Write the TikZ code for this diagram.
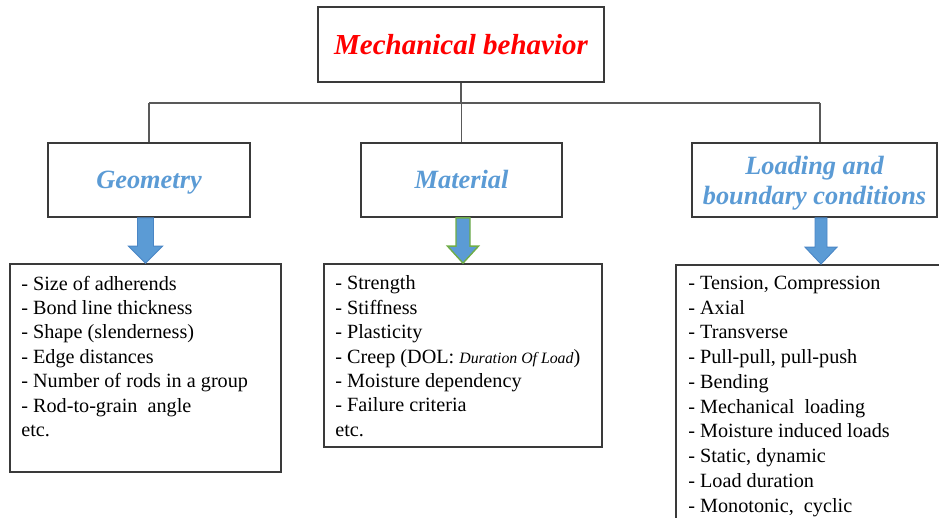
\documentclass[tikz,border=0pt]{standalone}
\usepackage{fontspec}
\setmainfont{Liberation Serif}
\usepackage{tikz}
\usetikzlibrary{calc}
\definecolor{hdrred}{RGB}{255,0,0}
\definecolor{hdrblue}{HTML}{5B9BD5}
\definecolor{arrline}{HTML}{4A86C5}
\definecolor{arrgreen}{HTML}{70AD47}
\definecolor{boxline}{HTML}{3A3A3A}
\tikzstyle{bx}=[shape=rectangle,draw=boxline,line width=1pt,fill=white,inner sep=0pt]
\tikzstyle{ttl}=[font=\fontsize{16.5}{20}\selectfont\bfseries\itshape,text=hdrred]
\tikzstyle{hdr}=[inner sep=0pt,font=\fontsize{15}{17}\selectfont\bfseries\itshape,text=hdrblue,align=center]
\tikzstyle{lst}=[anchor=north west,inner sep=0pt,align=left,font=\fontsize{11.5}{13.9}\selectfont]
\tikzstyle{wire}=[draw=black!65,line width=0.6pt]
\tikzstyle{barrow}=[fill=hdrblue,draw=arrline,line width=0.5pt]
\tikzstyle{garrow}=[fill=hdrblue,draw=arrgreen,line width=0.8pt]
\newcommand{\blockarr}[5]{%
  \draw[#3] ($(#2.north |- #1.south)+(-#4,0)$) -- ($(#2.north)+(-#4,-17)$)
    -- ($(#2.north)+(-#5,-17)$) -- (#2.north) -- ($(#2.north)+(#5,-17)$)
    -- ($(#2.north)+(#4,-17)$) -- ($(#2.north |- #1.south)+(#4,0)$) -- cycle;}
\begin{document}
\begin{tikzpicture}[x=0.02cm,y=-0.02cm]
            \clip (0,0) rectangle (939,517);
            % headers
            \node[bx,ttl,minimum width=5.72cm,minimum height=1.5cm] (mb) at (461,44.5) {Mechanical behavior};
            \node[bx,minimum width=4.04cm,minimum height=1.48cm] (geo) at (149,180) {};
            \node[bx,minimum width=4.02cm,minimum height=1.48cm] (mat) at (461.5,180) {};
            \node[bx,minimum width=4.9cm,minimum height=1.48cm] (load) at (814.5,180) {};
            \node[hdr,anchor=base] (geotitle) at ($(geo.center)+(0,8.5)$) {Geometry};
            \node[hdr,anchor=base] (mattitle) at ($(mat.center)+(0,8.5)$) {Material};
            \node[hdr] (loadtitle) at ($(load.center)+(0,3)$) {Loading and\\boundary conditions};
            % connectors
            \coordinate (bl) at (149,103);
            \coordinate (bm) at (mb.south |- bl);
            \coordinate (br) at (820,103);
            \draw[wire] (bl) -- (br);
            \draw[wire] (mb.south) -- (bm);
            \draw[wire] (bl) -- (geo.north);
            \draw[wire] (mat.north |- bl) -- (mat.north);
            \draw[wire] (br) -- (br |- load.north);
            % lists
            \node[bx,minimum width=5.42cm,minimum height=4.16cm] (geolist) at (145.5,368) {};
            \node[bx,minimum width=5.56cm,minimum height=3.66cm] (matlist) at (463,355.5) {};
            \node[bx,minimum width=5.8cm,minimum height=5.9cm] (loadlist) at (821,412.5) {};
            \node[lst] (geotext) at (21,275.5) {- Size of adherends\\- Bond line thickness\\- Shape (slenderness)\\- Edge distances\\- Number of rods in a group\\- Rod-to-grain\ \ angle\\etc.};
            \node[lst] (mattext) at (335,275.5) {- Strength\\- Stiffness\\- Plasticity\\- Creep (DOL: {\fontsize{9}{10}\selectfont\itshape Duration Of Load})\\- Moisture dependency\\- Failure criteria\\etc.};
            \node[lst,font=\fontsize{11.5}{14.1}\selectfont] (loadtext) at (688,275.5) {- Tension, Compression\\- Axial\\- Transverse\\- Pull-pull, pull-push\\- Bending\\- Mechanical\ \ loading\\- Moisture induced loads\\- Static, dynamic\\- Load duration\\- Monotonic,\ \ cyclic};
            % block arrows
            \blockarr{geo}{geolist}{barrow}{8}{17}
            \blockarr{mat}{matlist}{garrow}{7}{15.5}
            \blockarr{load}{loadlist}{barrow}{6}{16}
        \end{tikzpicture}
\end{document}
